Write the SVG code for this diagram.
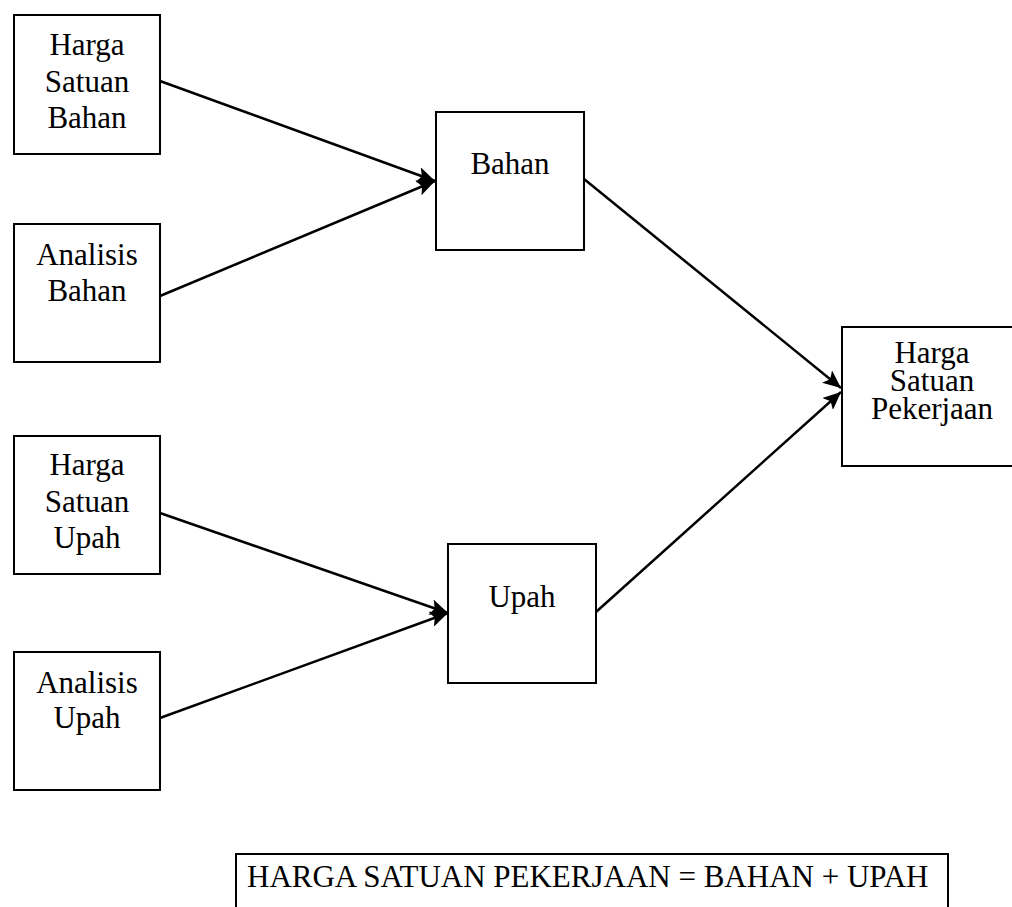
<svg xmlns="http://www.w3.org/2000/svg" width="1012" height="907" viewBox="0 0 1012 907">
<style>
.box{fill:#fff;stroke:#000;stroke-width:2}
.t{font-family:"Liberation Serif","Times New Roman",serif;font-size:31px;fill:#000;text-anchor:middle}
.tl{font-family:"Liberation Serif","Times New Roman",serif;font-size:31px;fill:#000}
.c{stroke:#000;stroke-width:2.5;fill:none;marker-end:url(#ah)}
</style>
<defs>
<marker id="ah" markerUnits="userSpaceOnUse" markerWidth="20" markerHeight="16" refX="18" refY="8" orient="auto" viewBox="0 0 20 16">
<path d="M0,0 L18,8 L0,16 L4,8 Z" fill="#000"/>
</marker>
</defs>
<g id="connectors">
<line class="c" x1="160" y1="81" x2="435" y2="181"/>
<line class="c" x1="160" y1="296" x2="435" y2="181"/>
<line class="c" x1="160" y1="513" x2="448" y2="613"/>
<line class="c" x1="160" y1="718" x2="448" y2="613"/>
<line class="c" x1="584" y1="179" x2="841" y2="388"/>
<line class="c" x1="596" y1="612" x2="841" y2="392"/>
</g>
<g id="harga-satuan-bahan">
<rect class="box" x="14" y="15" width="146" height="139"/>
<text class="t" x="87" y="55">Harga</text>
<text class="t" x="87" y="92">Satuan</text>
<text class="t" x="87" y="128">Bahan</text>
</g>
<g id="analisis-bahan">
<rect class="box" x="14" y="224" width="146" height="138"/>
<text class="t" x="87" y="265">Analisis</text>
<text class="t" x="87" y="301">Bahan</text>
</g>
<g id="harga-satuan-upah">
<rect class="box" x="14" y="436" width="146" height="138"/>
<text class="t" x="87" y="475">Harga</text>
<text class="t" x="87" y="512">Satuan</text>
<text class="t" x="87" y="548">Upah</text>
</g>
<g id="analisis-upah">
<rect class="box" x="14" y="652" width="146" height="138"/>
<text class="t" x="87" y="693">Analisis</text>
<text class="t" x="87" y="728">Upah</text>
</g>
<g id="bahan">
<rect class="box" x="436" y="112" width="148" height="138"/>
<text class="t" x="510" y="174">Bahan</text>
</g>
<g id="upah">
<rect class="box" x="448" y="544" width="148" height="139"/>
<text class="t" x="522" y="607">Upah</text>
</g>
<g id="harga-satuan-pekerjaan">
<rect class="box" x="842" y="327" width="180" height="139"/>
<text class="t" x="932" y="363">Harga</text>
<text class="t" x="932" y="391">Satuan</text>
<text class="t" x="932" y="419">Pekerjaan</text>
</g>
<g id="rumus">
<rect class="box" x="236" y="854" width="712" height="70"/>
<text class="tl" x="247" y="887">HARGA SATUAN PEKERJAAN = BAHAN + UPAH</text>
</g>
</svg>
